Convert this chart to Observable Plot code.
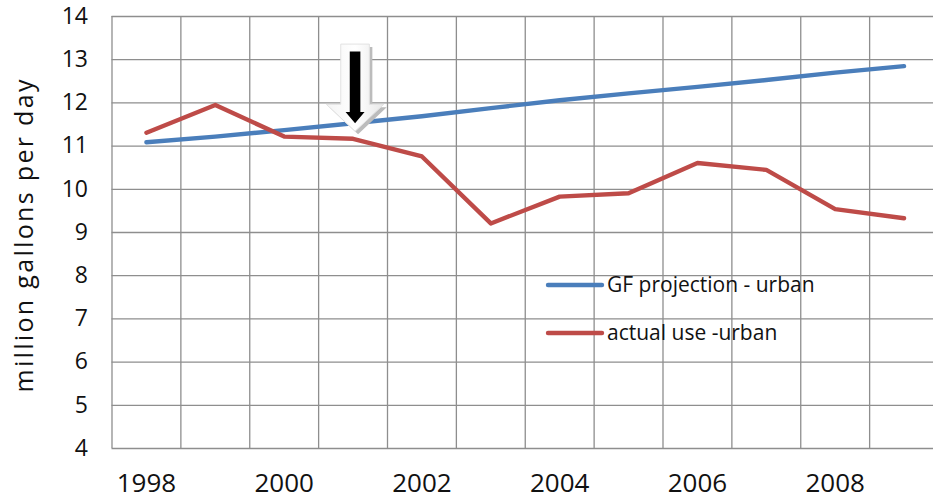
<!DOCTYPE html>
<html><head><meta charset="utf-8">
<script src="https://cdn.jsdelivr.net/npm/d3@7"></script>
<script src="https://cdn.jsdelivr.net/npm/@observablehq/plot@0.6"></script>
<style>
html,body{margin:0;padding:0;background:#fff;overflow:hidden;}
#chart{width:933px;height:500px;overflow:hidden;}
#chart svg{max-width:none !important;}
</style></head><body><div id="chart"></div>
<script>
const years = [1998, 1999, 2000, 2001, 2002, 2003, 2004, 2005, 2006, 2007, 2008, 2009];
const projection = [11.09, 11.22, 11.37, 11.53, 11.69, 11.88, 12.06, 12.22, 12.37, 12.53, 12.70, 12.85];
const actual = [11.31, 11.95, 11.22, 11.17, 10.76, 9.21, 9.83, 9.91, 10.61, 10.45, 9.54, 9.33];
const seriesNames = ["GF projection - urban", "actual use -urban"];
const seriesColors = ["#4a7ebb", "#be4b48"];
const xTickLabels = [1998, 2000, 2002, 2004, 2006, 2008];
const yTicks = [4, 5, 6, 7, 8, 9, 10, 11, 12, 13, 14];
const yLabel = "million gallons per day";
const arrowYear = [2001];
const arrowFrom = [13.35];
const arrowTo = [11.33];

const rows = [];
years.forEach((yr, i) => {
  rows.push({year: yr, value: projection[i], series: seriesNames[0]});
  rows.push({year: yr, value: actual[i], series: seriesNames[1]});
});
const gridX = years.map(y => y - 0.5).concat([years[years.length - 1] + 0.5]);

const gridColor = "#8e8e8e";
const chart = Plot.plot({
  width: 940, height: 500,
  marginLeft: 111.5, marginRight: 2, marginTop: 16, marginBottom: 52,
  style: {fontFamily: "'Open Sans', sans-serif", background: "#fff", color: "#111", overflow: "hidden", maxWidth: "none"},
  x: {type: "linear", domain: [1997.5, 2009.5], label: null},
  y: {domain: [4, 14], label: null},
  color: {domain: seriesNames, range: seriesColors},
  marks: [
    Plot.ruleX(gridX, {stroke: gridColor, strokeWidth: 1.3}),
    Plot.ruleY(yTicks, {stroke: gridColor, strokeWidth: 1.3}),
    Plot.axisX(xTickLabels, {tickSize: 0, tickPadding: 25, fontSize: 26, tickFormat: d => String(d), label: null}),
    Plot.axisY(yTicks, {tickSize: 0, tickPadding: 24, fontSize: 23, label: null}),
    Plot.line(rows, {x: "year", y: "value", z: "series", stroke: "series", strokeWidth: 4.4, strokeLinejoin: "round", strokeLinecap: "round"})
  ]
});
chart.style.maxWidth = "none";
document.getElementById("chart").appendChild(chart);

const svg = d3.select(chart);
const xs = chart.scale("x"), ys = chart.scale("y");

// Y axis title
svg.append("text")
  .attr("transform", `translate(33,${(ys.apply(14) + ys.apply(4)) / 2 + 4}) rotate(-90)`)
  .attr("text-anchor", "middle")
  .attr("font-family", "'Open Sans', sans-serif")
  .attr("font-size", 25)
  .attr("fill", "#111")
  .attr("textLength", 313)
  .attr("lengthAdjust", "spacing")
  .text(yLabel);

// Block arrow annotation
arrowYear.forEach((yr, i) => {
  const cx = xs.apply(yr) + 2.5;
  const top = ys.apply(arrowFrom[i]);
  const tip = ys.apply(arrowTo[i]);
  const outer = (ox, oy) => [
    [cx - 14.3 + ox, top + oy], [cx + 14.3 + ox, top + oy], [cx + 14.3 + ox, tip - 27 + oy],
    [cx + 28.7 + ox, tip - 27 + oy], [cx + ox, tip + oy], [cx - 28.7 + ox, tip - 27 + oy],
    [cx - 14.3 + ox, tip - 27 + oy]
  ];
  const defs = svg.append("defs");
  const grad = defs.append("linearGradient").attr("id", "arrowGrad" + i).attr("x1", 0).attr("x2", 1).attr("y1", 0).attr("y2", 0);
  grad.append("stop").attr("offset", "0%").attr("stop-color", "#f4f4f4");
  grad.append("stop").attr("offset", "50%").attr("stop-color", "#ffffff");
  grad.append("stop").attr("offset", "100%").attr("stop-color", "#e8e8e8");
  const line = d3.line();
  svg.append("path").attr("d", line(outer(3, 3)) + "Z").attr("fill", "#bcbcbc");
  svg.append("path").attr("d", line(outer(0, 0)) + "Z").attr("fill", `url(#arrowGrad${i})`).attr("stroke", "#e2e2e2").attr("stroke-width", 1);
  const inner = [
    [cx - 5.3, top + 7.5], [cx + 5.3, top + 7.5], [cx + 5.3, tip - 19.3], [cx + 9.5, tip - 19.3],
    [cx, tip - 8], [cx - 9.5, tip - 19.3], [cx - 5.3, tip - 19.3]
  ];
  svg.append("path").attr("d", line(inner) + "Z").attr("fill", "#000");
});

// Legend (inside the plot area)
const legend = svg.append("g").attr("font-family", "'Open Sans', sans-serif").attr("font-size", 21)
  .attr("fill", "#111").attr("text-anchor", "start");
seriesNames.forEach((name, i) => {
  const y = 285 + i * 48;
  legend.append("line").attr("x1", 548).attr("x2", 602).attr("y1", y).attr("y2", y)
    .attr("stroke", seriesColors[i]).attr("stroke-width", 4.4).attr("stroke-linecap", "round");
  legend.append("text").attr("x", 607).attr("y", y).attr("dy", "0.35em").text(name);
});
</script>
</body></html>
